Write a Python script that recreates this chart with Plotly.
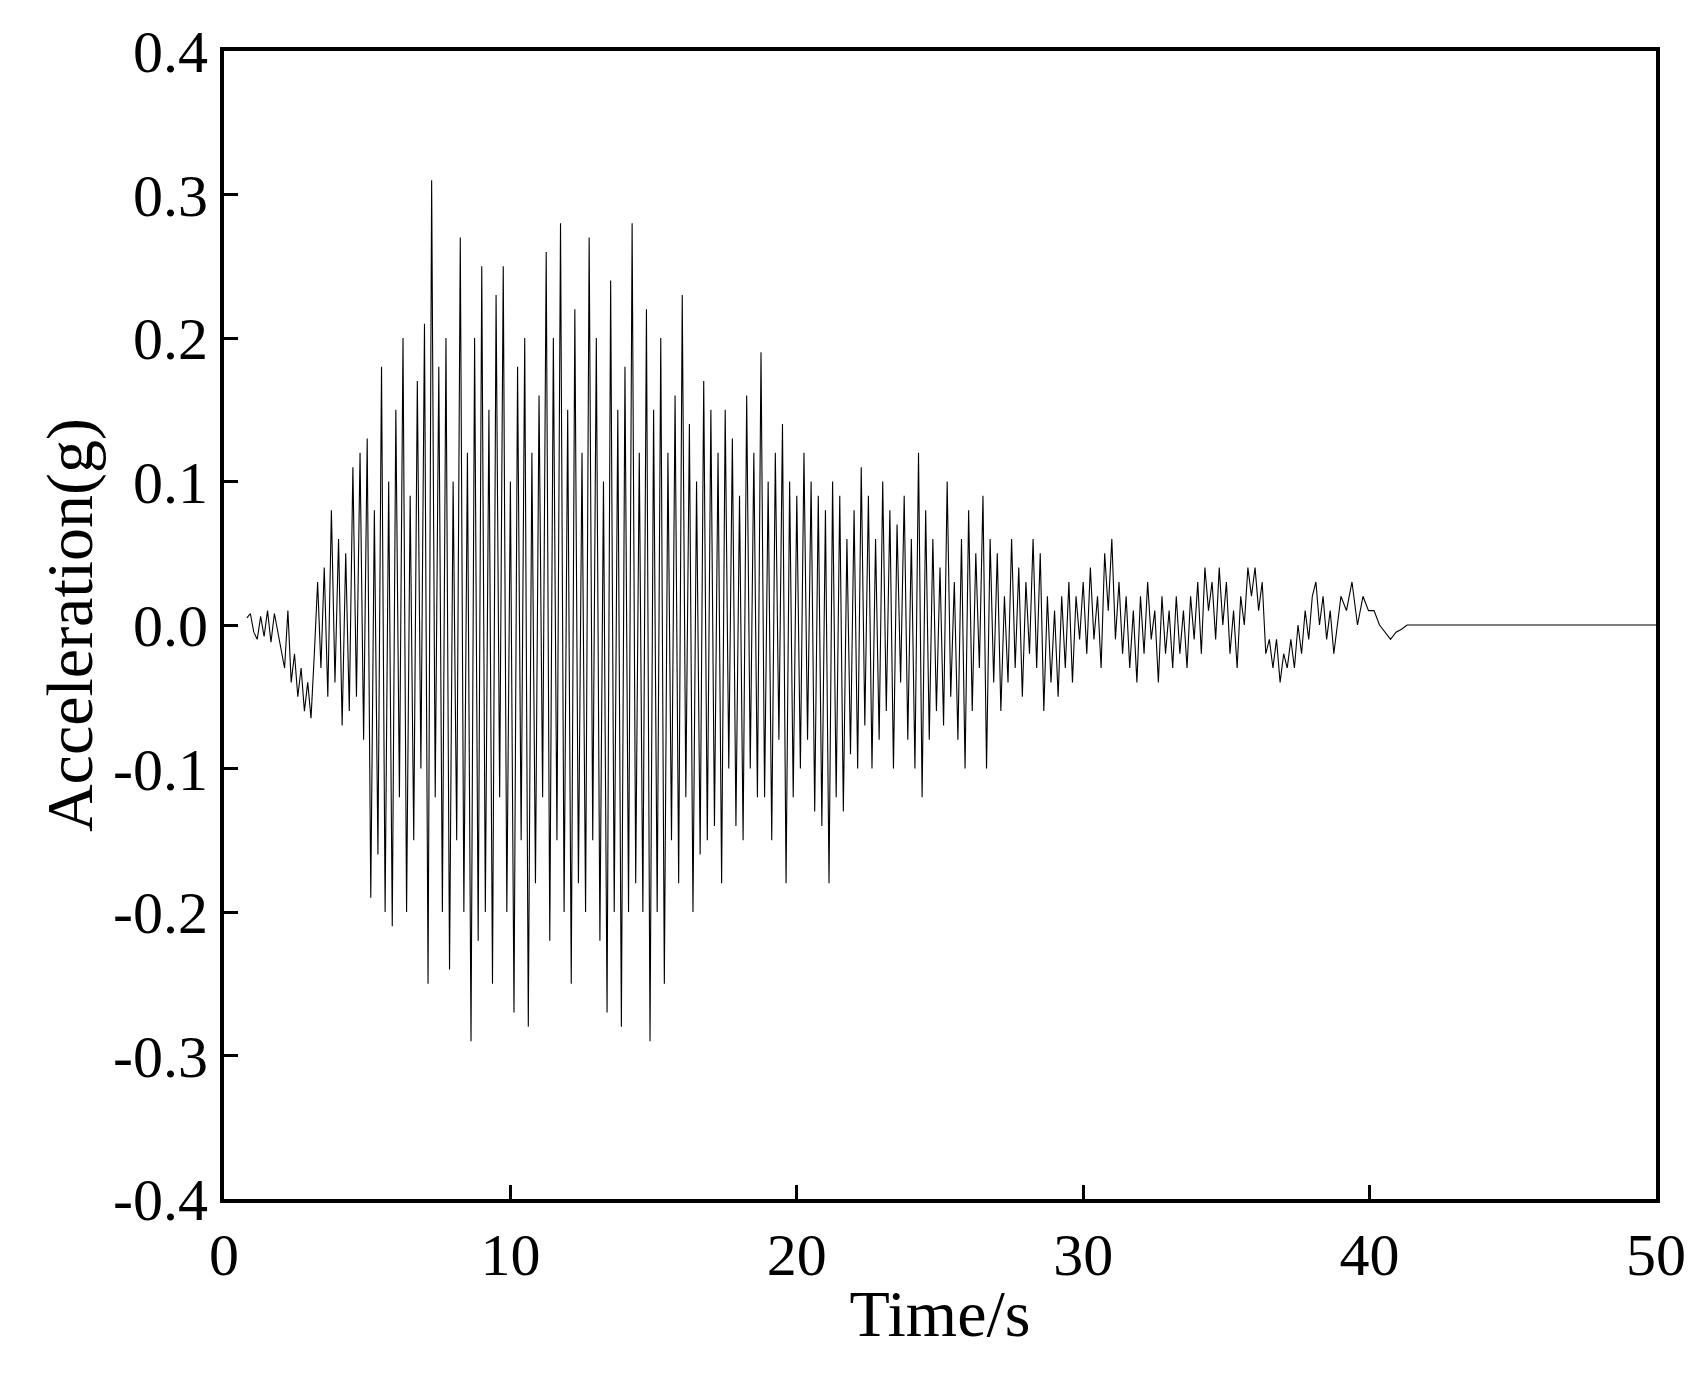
import numpy as np
import plotly.graph_objects as go

segments = [
 (0.8, 2.0, [0.005,0.008,-0.005,-0.01,0.006,-0.008,0.01,-0.012,0.008,-0.005]),
 (2.0, 3.5, [-0.02,-0.03,0.01,-0.04,-0.02,-0.05,-0.03,-0.06,-0.04,-0.065,-0.02,0.03,-0.03]),
 (3.5, 5.0, [0.04,-0.05,0.08,-0.04,0.06,-0.07,0.05,-0.06,0.11,-0.05,0.12,-0.08]),
 (5.0, 7.0, [0.13,-0.19,0.08,-0.16,0.18,-0.2,0.1,-0.21,0.15,-0.12,0.2,-0.2,0.09,-0.15,0.17,-0.1]),
 (7.0, 9.0, [0.21,-0.25,0.31,-0.12,0.18,-0.2,0.2,-0.24,0.1,-0.15,0.27,-0.2,0.12,-0.29,0.2,-0.22]),
 (9.0, 11.0, [0.25,-0.2,0.15,-0.25,0.23,-0.12,0.25,-0.2,0.1,-0.27,0.18,-0.15,0.2,-0.28,0.12,-0.18]),
 (11.0, 13.0, [0.16,-0.12,0.26,-0.22,0.2,-0.15,0.28,-0.2,0.15,-0.25,0.22,-0.18,0.12,-0.2,0.27,-0.15]),
 (13.0, 15.0, [0.2,-0.22,0.1,-0.27,0.24,-0.2,0.15,-0.28,0.18,-0.2,0.28,-0.18,0.12,-0.2,0.22,-0.29]),
 (15.0, 17.0, [0.15,-0.2,0.2,-0.25,0.12,-0.15,0.16,-0.18,0.23,-0.12,0.14,-0.2,0.1,-0.16,0.17,-0.15]),
 (17.0, 19.0, [0.15,-0.14,0.12,-0.18,0.15,-0.1,0.13,-0.14,0.09,-0.15,0.16,-0.1,0.12,-0.12,0.19,-0.12]),
 (19.0, 21.0, [0.1,-0.15,0.12,-0.08,0.14,-0.18,0.1,-0.12,0.09,-0.1,0.12,-0.08,0.1,-0.13,0.09,-0.14]),
 (21.0, 23.0, [0.08,-0.18,0.1,-0.12,0.09,-0.13,0.06,-0.09,0.08,-0.1,0.11,-0.07,0.09,-0.1,0.06,-0.08]),
 (23.0, 25.0, [0.1,-0.06,0.08,-0.1,0.07,-0.04,0.09,-0.08,0.06,-0.1,0.12,-0.12,0.08,-0.08,0.06,-0.06]),
 (25.0, 27.0, [0.04,-0.07,0.1,-0.05,0.03,-0.08,0.06,-0.1,0.08,-0.06,0.05,-0.03,0.09,-0.1,0.06,-0.04]),
 (27.0, 29.0, [0.05,-0.06,0.02,-0.04,0.06,-0.03,0.04,-0.05,0.03,-0.02,0.06,-0.03,0.05,-0.06,0.02,-0.04]),
 (29.0, 31.0, [0.01,-0.05,0.02,-0.03,0.03,-0.04,0.02,-0.01,0.03,-0.02,0.04,-0.01,0.02,-0.03,0.05,0.01]),
 (31.0, 33.0, [0.06,-0.01,0.03,-0.02,0.02,-0.03,0.01,-0.04,0.02,-0.02,0.03,-0.01,0.01,-0.04,0.02,-0.02]),
 (33.0, 35.0, [0.01,-0.03,0.02,-0.02,0.01,-0.03,0.02,-0.01,0.03,-0.02,0.04,0.01,0.03,-0.01,0.04,0.0]),
 (35.0, 37.0, [0.03,-0.02,0.01,-0.03,0.02,0.0,0.04,0.02,0.04,0.01,0.03,-0.02,-0.01,-0.03,-0.01,-0.04]),
 (37.0, 39.0, [-0.02,-0.03,-0.01,-0.03,0.0,-0.02,0.01,-0.01,0.02,0.03,0.0,0.02,-0.01,0.01,-0.02,0.0]),
 (39.0, 41.5, [0.02,0.01,0.03,0.0,0.02,0.01,0.01,0.0,-0.005,-0.01,-0.005,-0.003,0.0]),
]
tail_time = [50.0]
tail_acc = [0.0]
y_ticks = [-0.4, -0.3, -0.2, -0.1, 0.0, 0.1, 0.2, 0.3, 0.4]
y_labels = ["-0.4", "-0.3", "-0.2", "-0.1", "0.0", "0.1", "0.2", "0.3", "0.4"]

t, a = [], []
for s, e, vals in segments:
    n = len(vals)
    t.extend(np.linspace(s, e, n, endpoint=False).tolist())
    a.extend(vals)
t += [41.5] + tail_time
a += [0.0] + tail_acc

font = "Liberation Serif"
fig = go.Figure(go.Scatter(x=t, y=a, mode="lines", line=dict(color="black", width=1.1)))
axis = dict(showline=True, linewidth=4, linecolor="black", mirror=True, ticks="inside",
            ticklen=14, tickwidth=3, tickcolor="black", showgrid=False, zeroline=False,
            tickfont=dict(family=font, size=60, color="black"))
fig.update_layout(
    width=1702, height=1391, plot_bgcolor="white", paper_bgcolor="white",
    margin=dict(l=216, r=54, t=43, b=200), showlegend=False,
    xaxis=dict(range=[0, 50], dtick=10, title=dict(text="Time/s", font=dict(family=font, size=66, color="black"), standoff=4), **axis),
    yaxis=dict(range=[-0.4, 0.4], tickvals=y_ticks, ticktext=y_labels, title=dict(text="Acceleration(g)", font=dict(family=font, size=66, color="black"), standoff=0), **axis),
)
fig.write_html("out.html")
